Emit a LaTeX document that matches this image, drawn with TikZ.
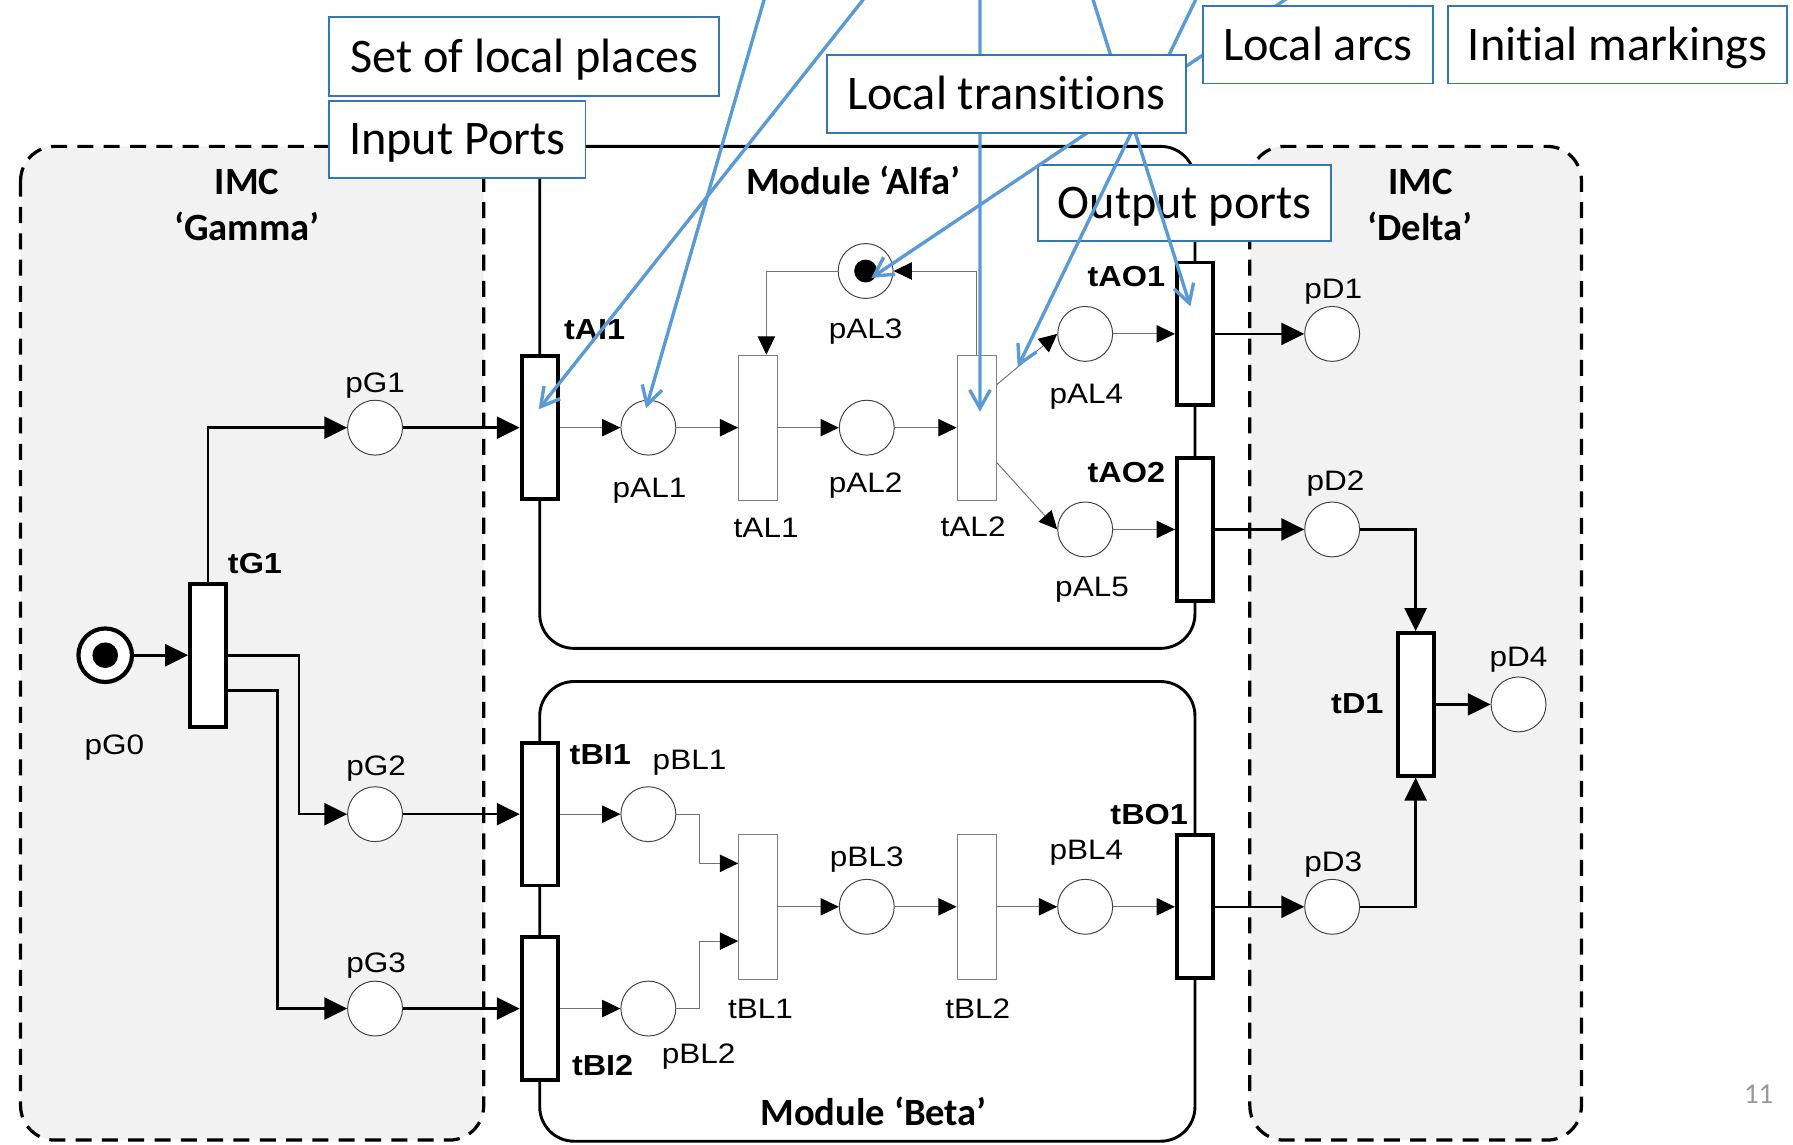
\documentclass[tikz,border=0pt]{standalone}
\usepackage{fontspec}
\usetikzlibrary{arrows.meta}
\newfontfamily\calloutfont[Ligatures=NoCommon]{Carlito}
\newfontfamily\netfont[FakeStretch=1.12]{Liberation Sans}
\definecolor{hintblue}{RGB}{91,155,213}
\definecolor{boxblue}{RGB}{52,118,186}
\definecolor{imcgray}{RGB}{242,242,242}

\begin{document}
\begin{tikzpicture}[
		x=0.025cm, y=-0.025cm,
		place/.style={circle, draw=black!75, line width=0.6pt, fill=white, minimum size=1.2cm, inner sep=0pt},
		srcplace/.style={place, draw=black, line width=2.6pt, minimum size=1.17cm},
		token/.style={circle, fill=black, inner sep=0pt, minimum size=5mm},
		port/.style={draw, line width=2.4pt, fill=white, minimum width=0.79cm, minimum height=3.12cm, inner sep=0pt},
		local/.style={draw=black!50, line width=0.6pt, fill=white, minimum width=0.85cm, minimum height=3.17cm, inner sep=0pt},
		lbl/.style={font=\netfont\fontsize{17.5}{20}\selectfont, inner sep=0pt},
		tlbl/.style={font=\netfont\bfseries\fontsize{18}{20}\selectfont, inner sep=0pt},
		region/.style={font=\calloutfont\bfseries\fontsize{24}{28.5}\selectfont, align=center, inner sep=0pt},
		imc/.style={draw, line width=2pt, dash pattern=on 3.5mm off 2.25mm, fill=imcgray, rounded corners=7.5mm},
		module/.style={draw, line width=1.8pt, rounded corners=7.5mm},
		netarc/.style={draw=black!55, line width=0.6pt, -{Triangle[length=4mm,width=3.8mm,color=black]}},
		portarc/.style={line width=1.6pt, -{Triangle[length=5mm,width=4.8mm]}},
		callout/.style={draw=boxblue, line width=1.2pt, fill=white, inner sep=0pt, text height=7.5mm, text depth=0.75mm, font=\calloutfont\fontsize{30}{36}\selectfont},
		hint/.style={draw=hintblue, line width=2.1pt, -{Straight Barb[length=4mm,width=4.5mm]}},
	]
	\useasboundingbox (0,0) rectangle (1568,1001);

	% IMCs and modules
	\draw[imc] (18,128) rectangle (423,997);
	\draw[imc] (1093,128) rectangle (1383,997);
	\draw[module] (472,128) rectangle (1045,567);
	\draw[module] (472,596) rectangle (1045,998);

	\node[region] (gamma-l) at (216,179) {IMC\\‘Gamma’};
	\node[region] (delta-l) at (1242,179) {IMC\\‘Delta’};
	\node[region] (alfa-l) at (746,158) {Module ‘Alfa’};
	\node[region] (beta-l) at (764,972) {Module ‘Beta’};

	% places
	\node[srcplace] (pG0) at (92,573) {};
	\node[token, minimum size=5.6mm] (pG0-tok) at (pG0) {};
	\node[place] (pG1) at (328,374) {};
	\node[place] (pG2) at (328,712) {};
	\node[place] (pG3) at (328,882) {};
	\node[place] (pAL1) at (567,374) {};
	\node[place] (pAL2) at (758,374) {};
	\node[place] (pAL3) at (757,237) {};
	\node[token] (pAL3-tok) at (pAL3) {};
	\node[place] (pAL4) at (949,292) {};
	\node[place] (pAL5) at (949,463) {};
	\node[place] (pBL1) at (567,712) {};
	\node[place] (pBL2) at (567,882) {};
	\node[place] (pBL3) at (758,793) {};
	\node[place] (pBL4) at (949,793) {};
	\node[place] (pD1) at (1165,292) {};
	\node[place] (pD2) at (1165,463) {};
	\node[place] (pD3) at (1165,793) {};
	\node[place] (pD4) at (1328,616) {};

	% transitions
	\node[port] (tG1) at (182,573) {};
	\node[port] (tAI1) at (472,374) {};
	\node[local] (tAL1) at (663,374) {};
	\node[local] (tAL2) at (854,374) {};
	\node[port] (tAO1) at (1045,292) {};
	\node[port] (tAO2) at (1045,463) {};
	\node[port] (tBI1) at (472,712) {};
	\node[port] (tBI2) at (472,882) {};
	\node[local] (tBL1) at (663,793) {};
	\node[local] (tBL2) at (854,793) {};
	\node[port] (tBO1) at (1045,793) {};
	\node[port] (tD1) at (1238,616) {};

	% names
	\node[lbl] (pG0-l) at (100,654) {pG0};
	\node[lbl] (pG1-l) at (328,337) {pG1};
	\node[lbl] (pG2-l) at (329,672) {pG2};
	\node[lbl] (pG3-l) at (329,844) {pG3};
	\node[lbl] (pAL1-l) at (568,429) {pAL1};
	\node[lbl] (pAL2-l) at (757,425) {pAL2};
	\node[lbl] (pAL3-l) at (757,290) {pAL3};
	\node[lbl] (pAL4-l) at (950,347) {pAL4};
	\node[lbl] (pAL5-l) at (955,516) {pAL5};
	\node[lbl] (pBL1-l) at (603,667) {pBL1};
	\node[lbl] (pBL2-l) at (611,924) {pBL2};
	\node[lbl] (pBL3-l) at (758,752) {pBL3};
	\node[lbl] (pBL4-l) at (950,746) {pBL4};
	\node[lbl] (pD1-l) at (1166,255) {pD1};
	\node[lbl] (pD2-l) at (1168,423) {pD2};
	\node[lbl] (pD3-l) at (1166,756) {pD3};
	\node[lbl] (pD4-l) at (1328,577) {pD4};
	\node[lbl] (tAL1-l) at (670,462) {tAL1};
	\node[lbl] (tAL2-l) at (851,461) {tAL2};
	\node[lbl] (tBL1-l) at (665,882) {tBL1};
	\node[lbl] (tBL2-l) at (855,882) {tBL2};
	\node[tlbl] (tG1-l) at (223,493) {tG1};
	\node[tlbl] (tAI1-l) at (520,288) {tAI1};
	\node[tlbl] (tAO1-l) at (985,242) {tAO1};
	\node[tlbl] (tAO2-l) at (985,413) {tAO2};
	\node[tlbl] (tBI1-l) at (525,660) {tBI1};
	\node[tlbl] (tBI2-l) at (527,932) {tBI2};
	\node[tlbl] (tBO1-l) at (1005,712) {tBO1};
	\node[tlbl] (tD1-l) at (1187,615) {tD1};

	% arcs between modules
	\draw[portarc] (pG0) -- (tG1);
	\draw[portarc] (tG1.north) |- (pG1);
	\draw[portarc] (tG1.east) -- ++(62,0) |- (pG2);
	\draw[portarc] ([yshift=-7.75mm]tG1.east) -- ++(43,0) |- (pG3);
	\draw[portarc] (pG1) -- (tAI1);
	\draw[portarc] (pG2) -- (tBI1);
	\draw[portarc] (pG3) -- (tBI2);
	\draw[portarc] (tAO1) -- (pD1);
	\draw[portarc] (tAO2) -- (pD2);
	\draw[portarc] (tBO1) -- (pD3);
	\draw[portarc] (pD2) -| (tD1);
	\draw[portarc] (pD3) -| (tD1);
	\draw[portarc] (tD1) -- (pD4);

	% local arcs
	\draw[netarc] (tAI1) -- (pAL1);
	\draw[netarc] (pAL1) -- (tAL1);
	\draw[netarc] (tAL1) -- (pAL2);
	\draw[netarc] (pAL2) -- (tAL2);
	\draw[netarc] (tAL2.65) -- coordinate[pos=0.35] (a4) (pAL4.west);
	\draw[netarc] (tAL2.-60) -- (pAL5.west);
	\draw[netarc] (pAL4) -- (tAO1);
	\draw[netarc] (pAL5) -- (tAO2);
	\draw[netarc] (tAL2.north) |- (pAL3);
	\draw[netarc] (pAL3) -| ([xshift=1.8mm]tAL1.north);
	\draw[netarc] (tBI1) -- (pBL1);
	\draw[netarc] (tBI2) -- (pBL2);
	\draw[netarc] (pBL1.east) -- ++(20,0) |- ([yshift=9.5mm]tBL1.west);
	\draw[netarc] (pBL2.east) -- ++(20,0) |- ([yshift=-7.5mm]tBL1.west);
	\draw[netarc] (tBL1) -- (pBL3);
	\draw[netarc] (pBL3) -- (tBL2);
	\draw[netarc] (tBL2) -- (pBL4);
	\draw[netarc] (pBL4) -- (tBO1);

	% callouts
	\node[callout, minimum width=6.4cm, minimum height=1.675cm] (outports) at (1036,177.5) {Output ports};

	\coordinate (h1) at (669,-3);
	\coordinate (h2) at (757,-3);
	\coordinate (h3) at (857,-3);
	\coordinate (h4) at (955,-3);
	\coordinate (h5) at (1047,-3);
	\coordinate (h6) at (1128,-3);
	\draw[hint] (h1) -- ([xshift=-0.5mm,yshift=4.25mm]pAL1.center);
	\draw[hint] (h2) -- ([xshift=-0.25mm,yshift=4mm]tAI1.center);
	\draw[hint] (h3) -- ([xshift=0.75mm,yshift=3.5mm]tAL2.center);
	\draw[hint] (h4) -- ([xshift=-1mm,yshift=6mm]tAO1.center);
	\draw[hint] (h5) -- (a4);
	\draw[hint] (h6) -- ([xshift=1.25mm,yshift=-1.5mm]pAL3.center);

	\node[callout, minimum width=8.525cm, minimum height=1.725cm] (localplaces) at (458.5,49.5) {Set of local places};
	\node[callout, minimum width=5.6cm, minimum height=1.7cm] (inports) at (400,122) {Input Ports};
	\node[callout, minimum width=7.85cm, minimum height=1.7cm] (localtrans) at (880,82) {Local transitions};
	\node[callout, minimum width=5.025cm, minimum height=1.7cm] (localarcs) at (1152.5,39) {Local arcs};
	\node[callout, minimum width=7.425cm, minimum height=1.7cm] (initmark) at (1414.5,39) {Initial markings};

	\node[font=\calloutfont\fontsize{18}{20}\selectfont, text=black!40, inner sep=0pt] (pagenum) at (1538,957) {11};
\end{tikzpicture}
\end{document}
